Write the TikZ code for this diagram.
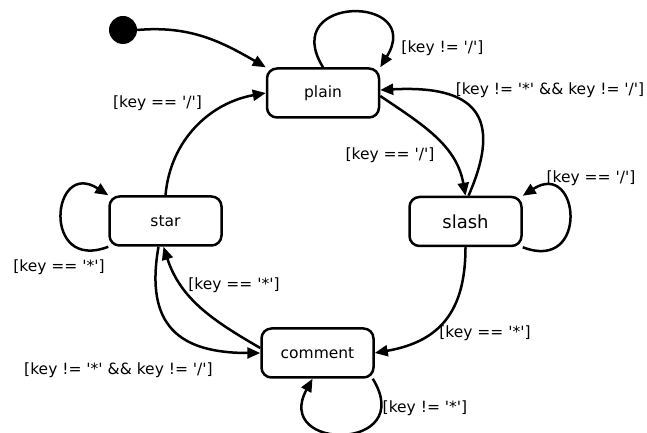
\documentclass[tikz,border=0pt]{standalone}
\usepackage{fontspec}
\setmainfont{DejaVu Sans}
\usetikzlibrary{arrows.meta}
\newcommand\q{\textquotesingle}
\begin{document}
\begin{tikzpicture}[x=1pt,y=1pt,
  state/.style={draw, line width=2.5pt, rounded corners=10pt, minimum width=112pt, minimum height=49pt, inner sep=0pt, font=\fontsize{15.5}{18}\selectfont},
  edge/.style={line width=2.5pt, -{Triangle[length=13pt,width=11pt]}},
  lbl/.style={font=\fontsize{15.5}{18}\selectfont, inner sep=0pt}]
\useasboundingbox (0,0) rectangle (647,433);
\node[state] (plain) at (323,340) {plain};
\node[state, font=\fontsize{18}{21}\selectfont] (slash) at (465.5,211.5) {slash};
\node[state] (star) at (165.5,212) {star};
\node[state] (comment) at (317.5,80) {comment};
\node[circle, fill=black, minimum size=28pt, inner sep=0pt] (init) at (123,403) {};

\draw[edge] (init.east) to[out=5, in=150] (plain.north west);
\draw[edge] (plain.north) .. controls +(-45,73) and +(45,73) .. (plain.north east);
\draw[edge] ([yshift=-3pt]plain.east) to[out=-34, in=100] (slash.north);
\draw[edge] ([xshift=3pt]slash.north) .. controls +(35,80) and +(95,5) .. ([yshift=3pt]plain.east);
\draw[edge] (slash.south east) .. controls +(67,-26) and +(57,37) .. (slash.north east);
\draw[edge] (slash.south) to[out=-90, in=10, looseness=1.2] (comment.east);
\draw[edge] ([xshift=-2pt]comment.south east) .. controls +(45,-73) and +(-40,-73) .. ([xshift=-5pt]comment.south);
\draw[edge] ([yshift=5pt]comment.west) to[out=150, in=-72] ([xshift=-2pt]star.south);
\draw[edge] ([xshift=-7pt]star.south) to[out=-100, in=180, looseness=1.4] (comment.west);
\draw[edge] (star.south west) .. controls +(-67,-26) and +(-57,37) .. (star.north west);
\draw[edge] (star.north) to[out=85, in=190] (plain.west);

\node[lbl] (l1) at (442.5,385) {[key != \q/\q]};
\node[lbl] (l2) at (550,343) {[key != \q*\q{} \&\& key != \q/\q]};
\node[lbl] (l3) at (390,278) {[key == \q/\q]};
\node[lbl] (l4) at (591,255) {[key == \q/\q]};
\node[lbl] (l5) at (157.5,330) {[key == \q/\q]};
\node[lbl] (l6) at (59,166) {[key == \q*\q]};
\node[lbl] (l7) at (234,148) {[key == \q*\q]};
\node[lbl] (l8) at (118.5,63) {[key != \q*\q{} \&\& key != \q/\q]};
\node[lbl] (l9) at (485,100) {[key == \q*\q]};
\node[lbl] (l10) at (425,25) {[key != \q*\q]};
\end{tikzpicture}
\end{document}
